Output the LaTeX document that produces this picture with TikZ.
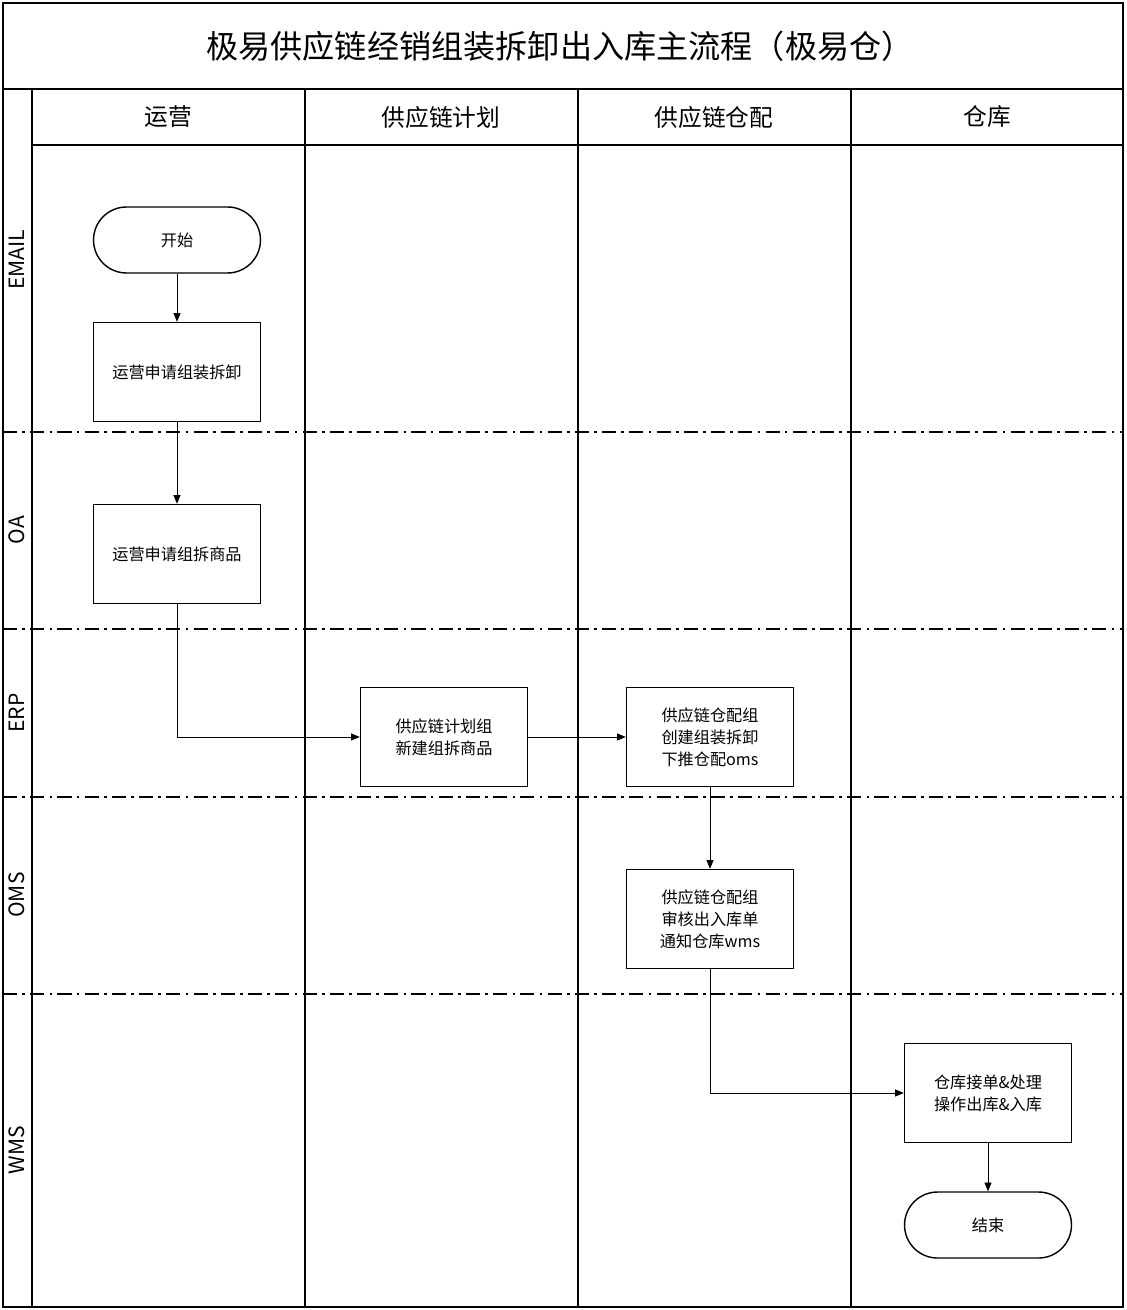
\documentclass[tikz,border=0pt]{standalone}
\usepackage{fontspec}
\setmainfont{Noto Sans CJK SC}
\usetikzlibrary{arrows.meta}
\begin{document}
\begin{tikzpicture}[x=0.02cm,y=-0.02cm]

    \tikzstyle{box} = [draw, line width=0.8, minimum width=3.34cm, minimum height=1.98cm, align=center, font=\fontsize{9.2}{12.5}\selectfont]
    \tikzstyle{term} = [box, rounded corners=0.66cm, minimum height=1.32cm]
    \tikzstyle{flow} = [-{Triangle[length=5pt,width=4pt]}, line width=0.5]
    \tikzstyle{lane} = [line width=0.6, dash pattern=on 8pt off 3pt on 1.5pt off 3pt]
    \tikzstyle{head} = [font=\fontsize{13.5}{15}\selectfont]
    \tikzstyle{side} = [rotate=90, font=\fontsize{12}{14}\selectfont]

    \useasboundingbox (0,0) rectangle (1126,1310);

    % frame and header
    \draw[line width=0.8] (3,3) rectangle (1123,1307);
    \draw[line width=0.8] (3,89) -- (1123,89);
    \draw[line width=0.8] (32,145) -- (1123,145);
    \draw[line width=0.8] (32,89) -- (32,1307);
    \foreach \x in {305,578,851}
        \draw[line width=0.8] (\x,89) -- (\x,1307);
    \node[font=\fontsize{18.3}{20}\selectfont] (title) at (560,46) {极易供应链经销组装拆卸出入库主流程（极易仓）};

    \node[head] (h1) at (168,117) {运营};
    \node[head] (h2) at (441,117) {供应链计划};
    \node[head] (h3) at (714,117) {供应链仓配};
    \node[head] (h4) at (987,117) {仓库};

    % lanes
    \foreach \y in {432,629,797,994}
        \draw[lane] (3,\y) -- (1123,\y);
    \node[side] (l1) at (17,260) {EMAIL};
    \node[side] (l2) at (17,530) {OA};
    \node[side] (l3) at (17,713) {ERP};
    \node[side] (l4) at (17,895) {OMS};
    \node[side] (l5) at (17,1150) {WMS};

    % steps
    \node[term] (start) at (177,240) {开始};
    \node[box] (apply) at (177,372) {运营申请组装拆卸};
    \node[box] (goods) at (177,554) {运营申请组拆商品};
    \node[box] (plan) at (444,737) {供应链计划组\\新建组拆商品};
    \node[box] (push) at (710,737) {供应链仓配组\\创建组装拆卸\\下推仓配oms};
    \node[box] (audit) at (710,919) {供应链仓配组\\审核出入库单\\通知仓库wms};
    \node[box] (wh) at (988,1093) {仓库接单\&处理\\操作出库\&入库};
    \node[term] (end) at (988,1225) {结束};

    \draw[flow] (start) -- (apply);
    \draw[flow] (apply) -- (goods);
    \draw[flow] (goods) |- (plan);
    \draw[flow] (plan) -- (push);
    \draw[flow] (push) -- (audit);
    \draw[flow] (audit) |- (wh);
    \draw[flow] (wh) -- (end);
\end{tikzpicture}
\end{document}
